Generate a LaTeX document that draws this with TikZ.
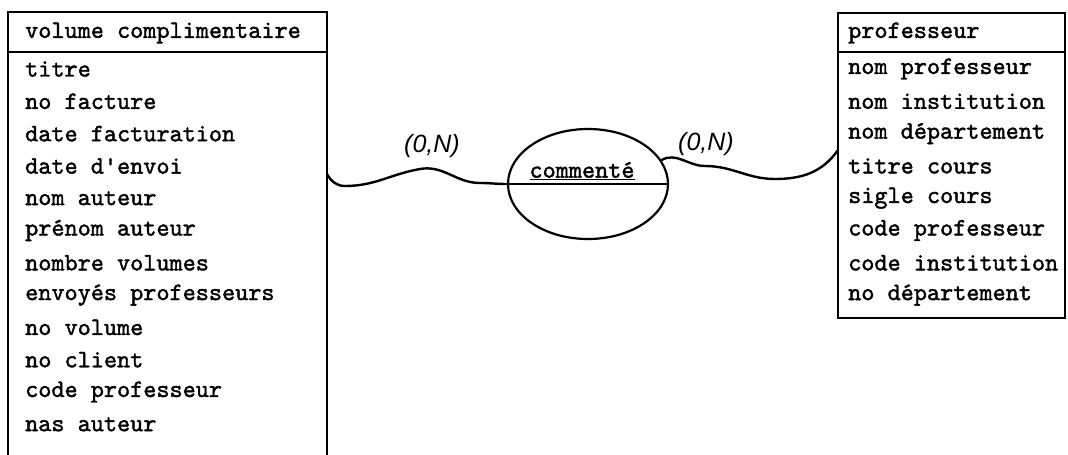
\documentclass[tikz,border=0pt]{standalone}
\usepackage{fontspec}
\newfontfamily\typefont{lmmono10-regular.otf}[FakeBold=1.6]
\newfontfamily\handfont{Liberation Sans}
\usetikzlibrary{shapes.geometric}
\begin{document}
\begin{tikzpicture}[x=1pt,y=-1pt,
  frame/.style={line width=1.6pt},
  link/.style={line width=2.4pt, line cap=round},
  attr/.style={anchor=west, inner sep=0pt, font=\fontsize{25}{28}\selectfont\typefont},
  card/.style={inner sep=0pt, font=\fontsize{25}{28}\selectfont\handfont\itshape},
  relation/.style={draw, ellipse, line width=2.2pt, minimum width=160pt, minimum height=110pt, inner sep=0pt}]
\useasboundingbox (0,0) rectangle (1068,455);

% entity: volume complimentaire (open at the bottom)
\draw[frame] (8,455) -- (8,12) -- (327,12) -- (327,455);
\draw[frame] (8,52) -- (327,52);
\node[attr] (vch) at (25,33) {volume complimentaire};
\foreach \t [count=\i from 0] in {titre, no facture, date facturation, date d'envoi,
    nom auteur, prénom auteur, nombre volumes, envoyés professeurs,
    no volume, no client, code professeur, nas auteur}
  \node[attr] (vc\i) at (25,69+32.3*\i) {\t};

% entity: professeur
\draw[frame] (838,13) rectangle (1065,318);
\draw[frame] (838,52) -- (1065,52);
\node[attr] (prh) at (848,33) {professeur};
\foreach \t [count=\i from 0] in {nom professeur, nom institution, nom département,
    titre cours, sigle cours, code professeur, code institution, no département}
  \node[attr] (pr\i) at (848,69+32.3*\i) {\t};

% relation: commenté
\node[relation] (ent) at (588,184) {};
\draw[line width=2pt] (ent.west) -- (ent.east);
\node[attr, anchor=south] (entlbl) at (582,180) {\underline{commenté}};

% connectors
\coordinate (vcJoin) at (327,174);
\coordinate (prJoin) at (838,150);
\draw[link] (vcJoin) to[out=-60,in=180] (345,186) to[out=0,in=190] (420,169)
  to[out=10,in=180] (480,183) to[out=0,in=180] (ent.west);
\draw[link] (ent.18) to[out=30,in=180] (705,166) to[out=0,in=180] (775,179)
  to[out=0,in=235] (prJoin);

% cardinalities
\node[card] (c1) at (432,146) {(0,N)};
\node[card] (c2) at (706,144) {(0,N)};
\end{tikzpicture}
\end{document}
